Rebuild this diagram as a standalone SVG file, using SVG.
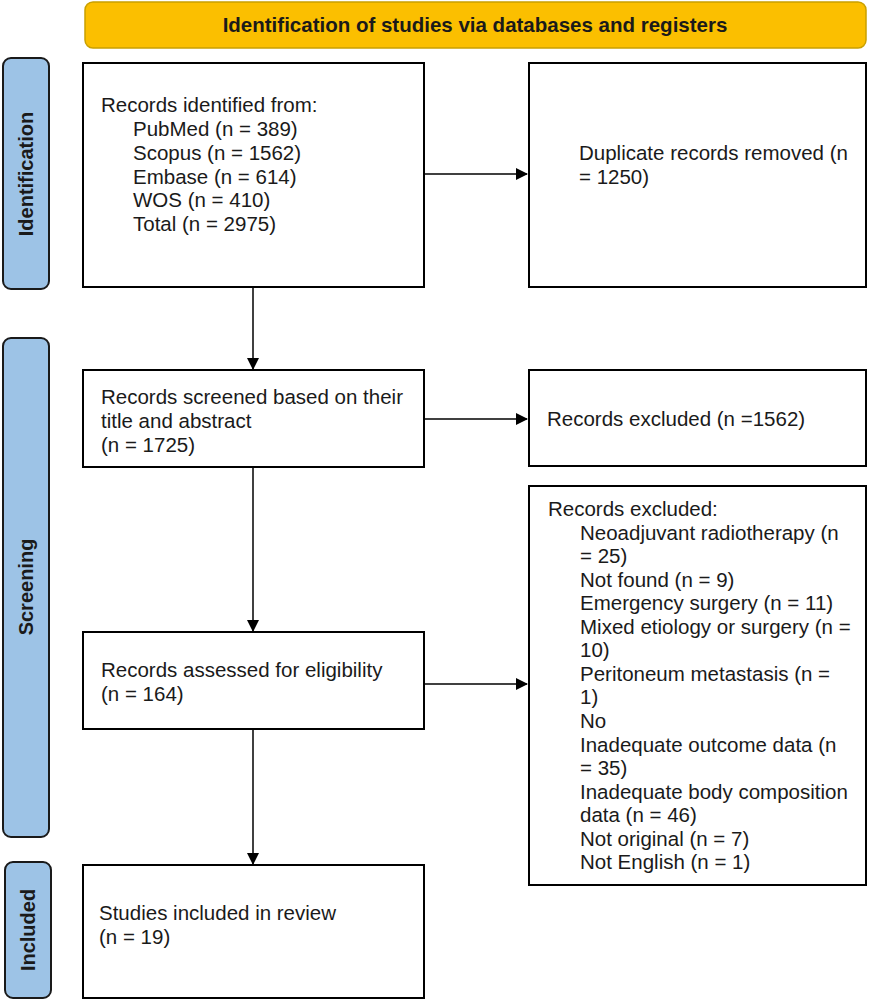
<svg xmlns="http://www.w3.org/2000/svg" width="869" height="1000" viewBox="0 0 869 1000">
<defs>
<marker id="arr" markerWidth="12" markerHeight="12" refX="11" refY="6" orient="auto" markerUnits="userSpaceOnUse">
<path d="M0,0 L12,6 L0,12 z" fill="#000"/>
</marker>
<style>
.box{fill:#fff;stroke:#000;stroke-width:2}
.side{fill:#9DC3E6;stroke:#1a1a1a;stroke-width:2}
.t{font-family:"Liberation Sans",Arial,sans-serif;font-size:20.5px;fill:#1a1a1a}
.st{font-family:"Liberation Sans",Arial,sans-serif;font-size:20px;font-weight:bold;fill:#1a1a1a}
.c{stroke:#000;stroke-width:1.5;fill:none}
</style>
</defs>
<rect width="869" height="1000" fill="#fff"/>
<g id="header">
<rect x="85" y="2" width="781" height="46" rx="8" fill="#FBBF00" stroke="#C9A000" stroke-width="1.5"/>
<text x="475" y="32" text-anchor="middle" class="st" style="font-size:20.5px">Identification of studies via databases and registers</text>
</g>
<g id="side-identification">
<rect x="3" y="58" width="46" height="231" rx="8" class="side"/>
<text transform="translate(33,174) rotate(-90)" text-anchor="middle" class="st">Identification</text>
</g>
<g id="side-screening">
<rect x="3" y="338" width="46" height="499" rx="8" class="side"/>
<text transform="translate(33,587) rotate(-90)" text-anchor="middle" class="st">Screening</text>
</g>
<g id="side-included">
<rect x="5" y="862" width="46" height="136" rx="8" class="side"/>
<text transform="translate(35,930) rotate(-90)" text-anchor="middle" class="st">Included</text>
</g>
<g id="identified">
<rect x="83" y="63" width="341" height="224" class="box"/>
<text class="t" x="101" y="112">Records identified from:</text>
<text class="t" x="133" y="136">PubMed (n = 389)</text>
<text class="t" x="133" y="160">Scopus (n = 1562)</text>
<text class="t" x="133" y="184">Embase (n = 614)</text>
<text class="t" x="133" y="207">WOS (n = 410)</text>
<text class="t" x="133" y="231">Total (n = 2975)</text>
</g>
<g id="duplicates">
<rect x="529" y="63" width="337" height="224" class="box"/>
<text class="t" x="579" y="160">Duplicate records removed (n</text>
<text class="t" x="579" y="184">= 1250)</text>
</g>
<g id="screened">
<rect x="83" y="370" width="341" height="97" class="box"/>
<text class="t" x="101" y="404">Records screened based on their</text>
<text class="t" x="101" y="428">title and abstract</text>
<text class="t" x="101" y="452">(n = 1725)</text>
</g>
<g id="excluded1">
<rect x="529" y="370" width="337" height="96" class="box"/>
<text class="t" x="547" y="426">Records excluded (n =1562)</text>
</g>
<g id="assessed">
<rect x="83" y="632" width="341" height="97" class="box"/>
<text class="t" x="101" y="677">Records assessed for eligibility</text>
<text class="t" x="101" y="701">(n = 164)</text>
</g>
<g id="excluded2">
<rect x="529" y="486" width="337" height="399" class="box"/>
<text class="t" x="548" y="516">Records excluded:</text>
<text class="t" x="580" y="540">Neoadjuvant radiotherapy (n</text>
<text class="t" x="580" y="563">= 25)</text>
<text class="t" x="580" y="587">Not found (n = 9)</text>
<text class="t" x="580" y="610">Emergency surgery (n = 11)</text>
<text class="t" x="580" y="634">Mixed etiology or surgery (n =</text>
<text class="t" x="580" y="657">10)</text>
<text class="t" x="580" y="681">Peritoneum metastasis (n =</text>
<text class="t" x="580" y="704">1)</text>
<text class="t" x="580" y="728">No</text>
<text class="t" x="580" y="752">Inadequate outcome data (n</text>
<text class="t" x="580" y="775">= 35)</text>
<text class="t" x="580" y="799">Inadequate body composition</text>
<text class="t" x="580" y="822">data (n = 46)</text>
<text class="t" x="580" y="846">Not original (n = 7)</text>
<text class="t" x="580" y="869">Not English (n = 1)</text>
</g>
<g id="included">
<rect x="83" y="865" width="341" height="133" class="box"/>
<text class="t" x="99" y="920">Studies included in review</text>
<text class="t" x="99" y="944">(n = 19)</text>
</g>
<g id="connectors">
<line class="c" x1="424" y1="174" x2="527" y2="174" marker-end="url(#arr)"/>
<line class="c" x1="253" y1="287" x2="253" y2="369" marker-end="url(#arr)"/>
<line class="c" x1="424" y1="419" x2="527" y2="419" marker-end="url(#arr)"/>
<line class="c" x1="253" y1="467" x2="253" y2="631" marker-end="url(#arr)"/>
<line class="c" x1="424" y1="684" x2="527" y2="684" marker-end="url(#arr)"/>
<line class="c" x1="253" y1="729" x2="253" y2="864" marker-end="url(#arr)"/>
</g>
</svg>
